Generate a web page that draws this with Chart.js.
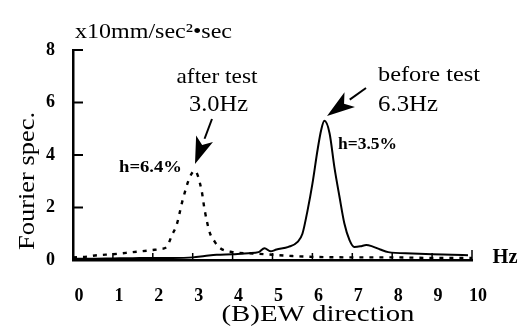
<!DOCTYPE html>
<html>
<head>
<meta charset="utf-8">
<script src="https://cdn.jsdelivr.net/npm/chart.js@4/dist/chart.umd.min.js"></script>
<style>
  html, body { margin: 0; padding: 0; background: #fff; }
  #wrap { width: 518px; height: 331px; position: relative; }
</style>
</head>
<body>
<div id="wrap"><canvas id="c" width="518" height="331"></canvas></div>
<script>
// Frequency (Hz) and Fourier spectrum (x10 mm/sec^2*sec)
const freqBefore = [0, 0.5, 1.0, 1.5, 2.0, 2.5, 3.0, 3.3, 3.6, 4.0, 4.4, 4.65, 4.8, 4.95, 5.1, 5.4, 5.63, 5.75, 5.88, 6.0, 6.13, 6.22, 6.3, 6.43, 6.55, 6.68, 6.8, 6.93, 7.05, 7.2, 7.35, 7.5, 7.7, 7.9, 8.5, 9.0, 9.5, 9.9];
const specBefore = [0.05, 0.05, 0.06, 0.07, 0.08, 0.08, 0.1, 0.15, 0.2, 0.22, 0.26, 0.3, 0.45, 0.33, 0.4, 0.5, 0.69, 1.0, 1.9, 2.9, 4.2, 4.95, 5.3, 4.83, 3.55, 2.4, 1.4, 0.76, 0.5, 0.52, 0.57, 0.52, 0.4, 0.3, 0.25, 0.22, 0.2, 0.18];

const freqAfter = [0, 0.3, 0.6, 1.0, 1.5, 2.0, 2.2, 2.35, 2.48, 2.6, 2.75, 2.93, 3.05, 3.22, 3.3, 3.43, 3.55, 3.68, 4.0, 4.5, 5.0, 5.5, 6.0, 7.0, 8.0, 9.0, 10.0];
const specAfter = [0.1, 0.12, 0.18, 0.22, 0.3, 0.38, 0.42, 0.5, 0.95, 1.35, 2.29, 3.16, 3.4, 2.67, 1.9, 1.03, 0.7, 0.46, 0.3, 0.25, 0.2, 0.15, 0.12, 0.1, 0.1, 0.08, 0.08];

const xTicks = [0, 1, 2, 3, 4, 5, 6, 7, 8, 9, 10];
const yTicks = [0, 2, 4, 6, 8];

const SERIF = '"Liberation Serif", "DejaVu Serif", serif';

function pts(xs, ys) { return xs.map((x, i) => ({ x: x, y: ys[i] })); }

const decor = {
  id: 'decor',
  afterDraw(chart) {
    const ctx = chart.ctx;
    const xs = chart.scales.x, ys = chart.scales.y;
    const ca = chart.chartArea;
    ctx.save();
    ctx.strokeStyle = '#000';
    ctx.fillStyle = '#000';
    // inward ticks on y axis
    ctx.lineWidth = 2;
    yTicks.forEach(v => {
      if (v === 0) return;
      const py = ys.getPixelForValue(v);
      ctx.beginPath(); ctx.moveTo(ca.left, py); ctx.lineTo(ca.left + 10, py); ctx.stroke();
    });
    // inward ticks on x axis
    ctx.lineWidth = 1.5;
    xTicks.forEach(v => {
      const px = xs.getPixelForValue(v);
      const len = (v === 10) ? 10 : 7;
      ctx.beginPath(); ctx.moveTo(px, ca.bottom); ctx.lineTo(px, ca.bottom - len); ctx.stroke();
    });

    // text drawn at a given centre, stretched to the reference width
    function txt(s, cx, cy, w, font, rot) {
      ctx.save();
      ctx.font = font;
      ctx.textAlign = 'center';
      ctx.textBaseline = 'middle';
      const m = ctx.measureText(s).width;
      ctx.translate(cx, cy);
      if (rot) ctx.rotate(rot);
      ctx.scale(w / m, 1);
      ctx.fillText(s, 0, 0);
      ctx.restore();
    }
    txt('x10mm/sec²•sec', 153.5, 32, 157, '21px ' + SERIF);
    txt('Fourier spec.', 28, 181, 138, '23px ' + SERIF, -Math.PI / 2);
    txt('after test', 217, 77, 81, '21px ' + SERIF);
    txt('before test', 429, 75, 102, '21px ' + SERIF);
    txt('3.0Hz', 218.5, 105, 59, '24px ' + SERIF);
    txt('6.3Hz', 408, 105, 60, '24px ' + SERIF);
    txt('h=6.4%', 150.5, 168, 63, 'bold 16px ' + SERIF);
    txt('h=3.5%', 367.5, 145, 59, 'bold 16px ' + SERIF);
    txt('Hz', 505, 258, 25, 'bold 21px ' + SERIF);
    txt('(B)EW direction', 318, 315, 193, '23px ' + SERIF);

    // arrows
    function arrow(x1, y1, x2, y2, hl, hw) {
      const a = Math.atan2(y2 - y1, x2 - x1);
      const bx = x2 - hl * Math.cos(a), by = y2 - hl * Math.sin(a);
      ctx.lineWidth = 2;
      ctx.beginPath(); ctx.moveTo(x1, y1); ctx.lineTo(bx, by); ctx.stroke();
      const nx = -Math.sin(a), ny = Math.cos(a);
      const mx = x2 - hl * 0.75 * Math.cos(a), my = y2 - hl * 0.75 * Math.sin(a);
      ctx.beginPath();
      ctx.moveTo(x2, y2);
      ctx.lineTo(bx + nx * hw, by + ny * hw);
      ctx.lineTo(mx, my);
      ctx.lineTo(bx - nx * hw, by - ny * hw);
      ctx.closePath();
      ctx.fill();
    }
    arrow(212, 119, 195, 164, 27, 9);
    arrow(366, 88, 327, 116, 28, 9);
    ctx.restore();
  }
};

new Chart(document.getElementById('c'), {
  type: 'line',
  data: {
    datasets: [
      {
        label: 'before test',
        data: pts(freqBefore, specBefore),
        borderColor: '#000',
        borderWidth: 2,
        pointRadius: 0,
        tension: 0.35,
        cubicInterpolationMode: 'monotone',
        fill: false
      },
      {
        label: 'after test',
        data: pts(freqAfter, specAfter),
        borderColor: '#000',
        borderWidth: 2.4,
        borderDash: [4, 6],
        pointRadius: 0,
        tension: 0.35,
        cubicInterpolationMode: 'monotone',
        fill: false
      }
    ]
  },
  options: {
    responsive: false,
    animation: false,
    devicePixelRatio: 1,
    layout: { padding: { top: 50, right: 46, left: 0, bottom: 0 } },
    plugins: { legend: { display: false }, tooltip: { enabled: false }, title: { display: false } },
    scales: {
      x: {
        type: 'linear',
        min: 0, max: 10,
        afterFit(s) { s.height = 71; },
        afterBuildTicks(s) { s.ticks = xTicks.map(v => ({ value: v })); },
        grid: { display: false, drawTicks: false },
        border: { display: true, color: '#000', width: 2.5 },
        ticks: {
          color: '#000',
          font: { family: SERIF, size: 18, weight: 'bold' },
          padding: 26,
          labelOffset: 6,
          maxRotation: 0,
          autoSkip: false
        }
      },
      y: {
        type: 'linear',
        min: 0, max: 8,
        afterFit(s) { s.width = 73; },
        afterBuildTicks(s) { s.ticks = yTicks.map(v => ({ value: v })); },
        grid: { display: false, drawTicks: false },
        border: { display: true, color: '#000', width: 2.5 },
        ticks: {
          color: '#000',
          font: { family: SERIF, size: 18, weight: 'bold' },
          padding: 18
        }
      }
    }
  },
  plugins: [decor]
});
</script>
</body>
</html>
